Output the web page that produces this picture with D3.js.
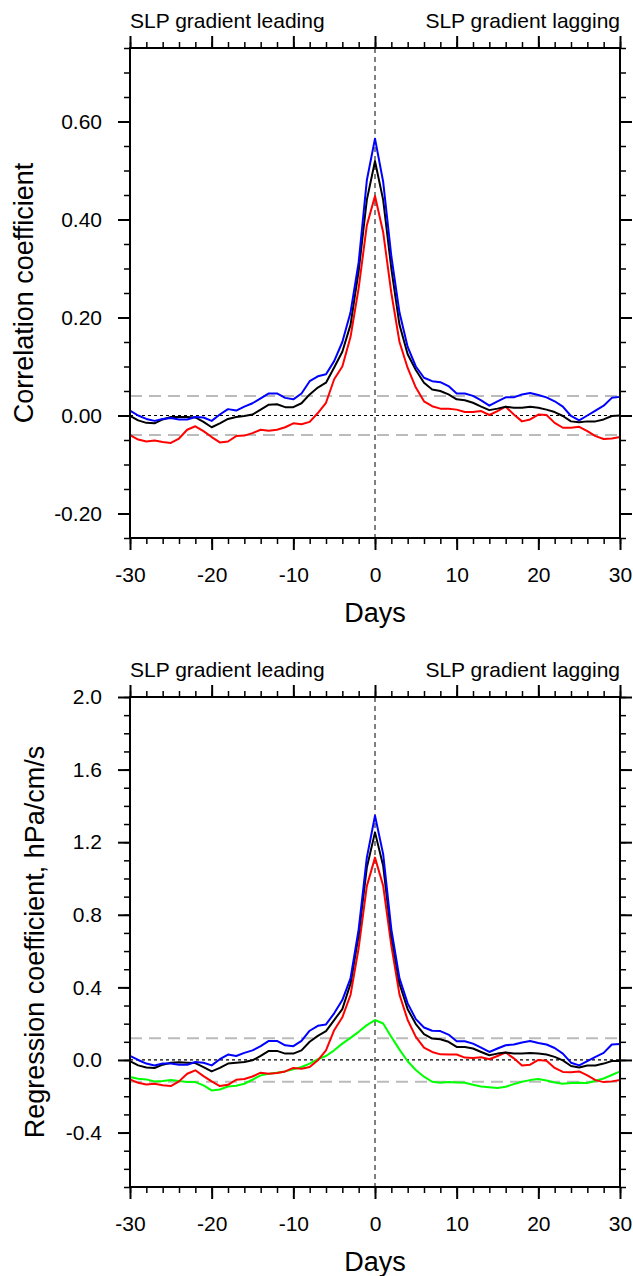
<!DOCTYPE html>
<html>
<head>
<meta charset="utf-8">
<script src="https://d3js.org/d3.v7.min.js"></script>
<style>
	body { margin: 0; background: #fff; }
	svg text { font-family: "Liberation Sans", Arial, Helvetica, sans-serif; fill: #000; }
</style>
</head>
<body>
<div id="lagChart"><svg></svg></div>
<script>
var days = d3.range(-30, 31);

// correlation, lag -30 .. 30
var corrBlue = [0.010, 0.000, -0.007, -0.011, -0.007, -0.005, -0.008, -0.008, -0.003, -0.004,
	-0.011, 0.002, 0.013, 0.010, 0.018, 0.025, 0.035, 0.045, 0.045, 0.036,
	0.033, 0.045, 0.070, 0.080, 0.084, 0.111, 0.150, 0.210, 0.313, 0.480,
	0.565,
	0.477, 0.325, 0.210, 0.140, 0.100, 0.077, 0.070, 0.068, 0.060, 0.045,
	0.045, 0.040, 0.031, 0.020, 0.029, 0.037, 0.037, 0.043, 0.046, 0.042,
	0.037, 0.029, 0.018, -0.001, -0.010, 0.000, 0.010, 0.020, 0.036, 0.038];
var corrBlack = [-0.001, -0.010, -0.015, -0.016, -0.008, -0.003, -0.003, -0.003, -0.004, -0.013,
	-0.024, -0.016, -0.007, -0.003, -0.001, 0.002, 0.012, 0.022, 0.023, 0.017,
	0.017, 0.025, 0.043, 0.057, 0.067, 0.098, 0.130, 0.185, 0.295, 0.440,
	0.519,
	0.440, 0.300, 0.185, 0.125, 0.093, 0.067, 0.053, 0.050, 0.043, 0.033,
	0.031, 0.026, 0.018, 0.011, 0.014, 0.018, 0.016, 0.016, 0.018, 0.016,
	0.012, 0.007, -0.001, -0.012, -0.014, -0.012, -0.012, -0.008, -0.001, 0.000];
var corrRed = [-0.040, -0.049, -0.053, -0.051, -0.054, -0.056, -0.047, -0.029, -0.022, -0.032,
	-0.044, -0.055, -0.053, -0.042, -0.041, -0.036, -0.029, -0.031, -0.029, -0.024,
	-0.016, -0.018, -0.013, 0.005, 0.026, 0.074, 0.100, 0.160, 0.260, 0.388,
	0.448,
	0.374, 0.250, 0.150, 0.097, 0.057, 0.029, 0.019, 0.014, 0.014, 0.012,
	0.007, 0.007, 0.009, 0.001, 0.009, 0.018, 0.002, -0.012, -0.008, 0.002,
	0.001, -0.015, -0.025, -0.025, -0.023, -0.032, -0.042, -0.048, -0.047, -0.044];

// regression, lag -30 .. 30
var regBlue = [0.022, 0.000, -0.020, -0.030, -0.020, -0.020, -0.026, -0.026, -0.011, -0.015,
	-0.030, 0.004, 0.030, 0.022, 0.039, 0.053, 0.076, 0.105, 0.105, 0.081,
	0.076, 0.105, 0.161, 0.188, 0.196, 0.257, 0.330, 0.450, 0.720, 1.115,
	1.346,
	1.134, 0.720, 0.450, 0.312, 0.225, 0.179, 0.161, 0.159, 0.140, 0.103,
	0.103, 0.090, 0.068, 0.044, 0.063, 0.081, 0.085, 0.096, 0.105, 0.094,
	0.085, 0.066, 0.035, -0.015, -0.030, -0.007, 0.017, 0.039, 0.085, 0.088];
var regBlack = [-0.007, -0.030, -0.042, -0.044, -0.026, -0.015, -0.013, -0.015, -0.017, -0.039,
	-0.063, -0.044, -0.020, -0.015, -0.011, -0.002, 0.022, 0.050, 0.050, 0.035,
	0.035, 0.053, 0.100, 0.133, 0.159, 0.220, 0.280, 0.420, 0.690, 1.060,
	1.254,
	1.070, 0.690, 0.420, 0.280, 0.198, 0.142, 0.118, 0.114, 0.100, 0.072,
	0.072, 0.063, 0.044, 0.026, 0.035, 0.041, 0.035, 0.035, 0.039, 0.035,
	0.030, 0.017, -0.002, -0.033, -0.041, -0.030, -0.030, -0.020, -0.006, -0.006];
var regRed = [-0.107, -0.126, -0.135, -0.131, -0.139, -0.144, -0.118, -0.076, -0.057, -0.089,
	-0.118, -0.144, -0.137, -0.109, -0.105, -0.091, -0.070, -0.076, -0.072, -0.063,
	-0.044, -0.048, -0.039, -0.002, 0.053, 0.164, 0.235, 0.358, 0.617, 0.958,
	1.115,
	0.960, 0.630, 0.360, 0.220, 0.127, 0.068, 0.044, 0.031, 0.030, 0.030,
	0.013, 0.011, 0.015, 0.004, 0.022, 0.041, 0.009, -0.031, -0.026, 0.000,
	-0.004, -0.044, -0.066, -0.068, -0.063, -0.085, -0.111, -0.122, -0.118, -0.111];
var regGreen = [-0.094, -0.103, -0.107, -0.118, -0.116, -0.111, -0.116, -0.122, -0.122, -0.140,
	-0.168, -0.163, -0.146, -0.142, -0.131, -0.109, -0.085, -0.076, -0.070, -0.063,
	-0.052, -0.039, -0.020, 0.004, 0.022, 0.053, 0.090, 0.122, 0.155, 0.192,
	0.220,
	0.201, 0.127, 0.057, -0.007, -0.055, -0.092, -0.120, -0.126, -0.122, -0.124,
	-0.126, -0.137, -0.146, -0.151, -0.155, -0.148, -0.133, -0.120, -0.111, -0.105,
	-0.113, -0.124, -0.131, -0.127, -0.126, -0.127, -0.115, -0.102, -0.083, -0.063];

var dayTicks = [-30, -20, -10, 0, 10, 20, 30];
var corrTicks = [-0.2, 0, 0.2, 0.4, 0.6];
var corrTickLabels = ["-0.20", "0.00", "0.20", "0.40", "0.60"];
var regTicks = [-0.4, 0, 0.4, 0.8, 1.2, 1.6, 2.0];
var regTickLabels = ["-0.4", "0.0", "0.4", "0.8", "1.2", "1.6", "2.0"];

var svg = d3.select('#lagChart').select('svg').attr('width', 633).attr('height', 1276);

lagPanel()
	.top(48).yDomain([-0.25, 0.75]).yTicks(corrTicks, corrTickLabels).minorStep(0.05)
	.sigLevel(0.04).yTitle("Correlation coefficient").titleX(33)
	.series([[corrRed, "#ff0000"], [corrBlack, "#000000"], [corrBlue, "#0000ff"]])(svg);

lagPanel()
	.top(697).yDomain([-0.7, 2.0]).yTicks(regTicks, regTickLabels).minorStep(0.1)
	.sigLevel(0.12).yTitle("Regression coefficient, hPa/cm/s").titleX(44)
	.series([[regGreen, "#00ff00"], [regRed, "#ff0000"], [regBlack, "#000000"], [regBlue, "#0000ff"]])(svg);

function lagPanel() {
	var left = 130,
	top = 48,
	width = 490,
	height = 490,
	yDomain = [-0.25, 0.75],
	yTicks = [],
	yTickLabels = [],
	minorStep = 0.05,
	sigLevel = 0.04,
	yTitle = "",
	titleX = 33,
	series = [];

	function chart(svg) {
		var x = d3.scaleLinear().domain([-30, 30]).range([left, left + width]);
		var y = d3.scaleLinear().domain(yDomain).range([top + height, top]);
		var g = svg.append("g");

		var lo = Math.ceil(yDomain[0] / minorStep - 1e-6), hi = Math.floor(yDomain[1] / minorStep + 1e-6);
		var yMinor = d3.range(lo, hi + 1).map(function(i) { return +(i * minorStep).toFixed(3); });
		var xMinor = d3.range(-30, 31, 2);

		// significance levels and zero lines
		[sigLevel, -sigLevel].forEach(function(v) {
			g.append("line")
				.attr("x1", x(-30)).attr("x2", x(30))
				.attr("y1", y(v)).attr("y2", y(v))
				.attr("stroke", "#bbbbbb").attr("stroke-width", 2)
				.attr("stroke-dasharray", "12,7");
		});
		g.append("line")
			.attr("x1", x(-30)).attr("x2", x(30))
			.attr("y1", y(0)).attr("y2", y(0))
			.attr("stroke", "#000").attr("stroke-width", 1.2)
			.attr("stroke-dasharray", "3,3");
		g.append("line")
			.attr("x1", x(0)).attr("x2", x(0))
			.attr("y1", top).attr("y2", top + height)
			.attr("stroke", "#555").attr("stroke-width", 1.5)
			.attr("stroke-dasharray", "5,4");

		var line = d3.line()
			.x(function(d, i) { return x(days[i]); })
			.y(function(d) { return y(d); });

		g.selectAll("path.series")
			.data(series)
			.enter()
			.append("path")
			.attr("class", "series")
			.attr("d", function(s) { return line(s[0]); })
			.attr("fill", "none")
			.attr("stroke", function(s) { return s[1]; })
			.attr("stroke-width", 2)
			.attr("stroke-linejoin", "round");

		// minor ticks on all four sides
		drawAxis(g, d3.axisBottom(x).tickValues(xMinor).tickSize(6).tickFormat(""), 0, top + height, 1.5);
		drawAxis(g, d3.axisTop(x).tickValues(xMinor).tickSize(6).tickFormat(""), 0, top, 1.5);
		drawAxis(g, d3.axisLeft(y).tickValues(yMinor).tickSize(6).tickFormat(""), left, 0, 1.5);
		drawAxis(g, d3.axisRight(y).tickValues(yMinor).tickSize(6).tickFormat(""), left + width, 0, 1.5);

		// major ticks
		drawAxis(g, d3.axisBottom(x).tickValues(dayTicks).tickSize(12).tickPadding(17)
			.tickFormat(function(d) { return d; }), 0, top + height, 2);
		drawAxis(g, d3.axisTop(x).tickValues(dayTicks).tickSize(12).tickFormat(""), 0, top, 2);
		drawAxis(g, d3.axisLeft(y).tickValues(yTicks).tickSize(12).tickPadding(16)
			.tickFormat(function(d, i) { return yTickLabels[i]; }), left, 0, 2);
		drawAxis(g, d3.axisRight(y).tickValues(yTicks).tickSize(12).tickFormat(""), left + width, 0, 2);

		g.append("rect")
			.attr("x", left).attr("y", top)
			.attr("width", width).attr("height", height)
			.attr("fill", "none").attr("stroke", "#000").attr("stroke-width", 2);

		g.append("text")
			.attr("x", left).attr("y", top - 20)
			.attr("font-size", 21)
			.text("SLP gradient leading");
		g.append("text")
			.attr("x", left + width).attr("y", top - 20)
			.attr("text-anchor", "end")
			.attr("font-size", 21)
			.text("SLP gradient lagging");

		g.append("text")
			.attr("x", left + width / 2).attr("y", top + height + 84)
			.attr("text-anchor", "middle")
			.attr("font-size", 27)
			.text("Days");
		g.append("text")
			.attr("transform", "translate(" + [titleX, top + height / 2] + ") rotate(-90)")
			.attr("text-anchor", "middle")
			.attr("font-size", 27)
			.text(yTitle);
	}

	function drawAxis(g, axis, tx, ty, sw) {
		var a = g.append("g")
			.attr("transform", "translate(" + [tx, ty] + ")")
			.call(axis);
		a.select(".domain").remove();
		a.selectAll(".tick line").attr("stroke", "#000").attr("stroke-width", sw);
		a.selectAll("text").attr("font-size", 21).attr("font-family", null);
		a.attr("font-size", 21).attr("font-family", null);
	}

	chart.top = function(value) { top = value; return chart; };
	chart.yDomain = function(value) { yDomain = value; return chart; };
	chart.yTicks = function(values, labels) { yTicks = values; yTickLabels = labels; return chart; };
	chart.minorStep = function(value) { minorStep = value; return chart; };
	chart.sigLevel = function(value) { sigLevel = value; return chart; };
	chart.yTitle = function(value) { yTitle = value; return chart; };
	chart.titleX = function(value) { titleX = value; return chart; };
	chart.series = function(value) { series = value; return chart; };

	return chart;
}
</script>
</body>
</html>
